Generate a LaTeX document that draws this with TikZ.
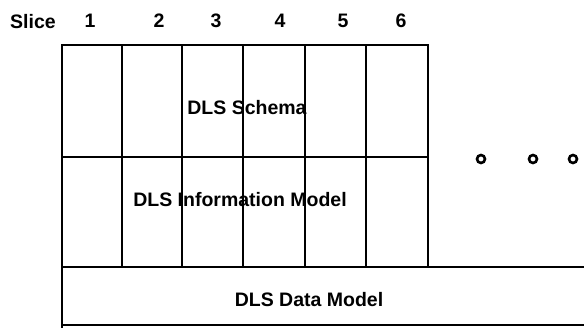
\documentclass[tikz,border=0pt]{standalone}
\usepackage{fontspec}
\setmainfont{Liberation Sans}
\begin{document}
\begin{tikzpicture}[x=1pt,y=-1pt,
  rule/.style={line width=1.6pt,line cap=rect},
  lbl/.style={font=\fontsize{19.5}{19.5}\selectfont\bfseries,inner sep=0pt,anchor=center},
  dot/.style={circle,draw,line width=2.6pt,minimum size=8pt,inner sep=0pt}]
\useasboundingbox (0,0) rectangle (584,327);
\begin{scope}
\clip (0,0) rectangle (584,327);
% slice grid: two layers, six slices
\draw[rule] (62,45) rectangle (428,267);
\draw[rule] (62,157) -- (428,157);
\foreach \x in {122,182,243,305,366}
  \draw[rule] (\x,45) -- (\x,267);
% data model layer, open to the right
\draw[rule] (62,45) -- (62,330);
\draw[rule] (62,267) -- (590,267);
\draw[rule] (62,325) -- (590,325);
\end{scope}
% header
\node[lbl] (slice) at (33,22) {Slice};
\node[lbl] (s1) at (90,21) {1};
\node[lbl] (s2) at (159,21) {2};
\node[lbl] (s3) at (216,21) {3};
\node[lbl] (s4) at (280,21) {4};
\node[lbl] (s5) at (343,21) {5};
\node[lbl] (s6) at (401,21) {6};
% layer labels
\node[lbl] (schema) at (247,108) {DLS Schema};
\node[lbl] (info) at (240,200) {DLS Information Model};
\node[lbl] (data) at (309,300) {DLS Data Model};
% continuation marks
\node[dot] (c1) at (481,159) {};
\node[dot] (c2) at (533,159) {};
\node[dot] (c3) at (573,159) {};
\end{tikzpicture}
\end{document}
